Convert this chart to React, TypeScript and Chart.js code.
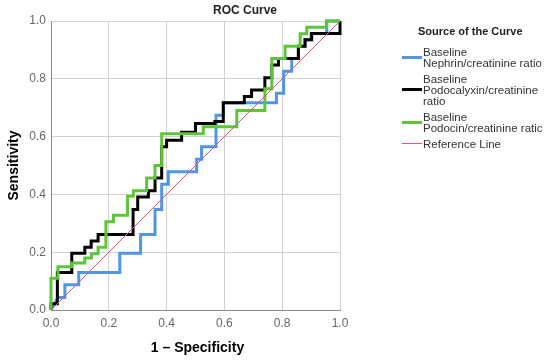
import React, { useEffect, useRef } from "react";
import { Chart, registerables } from "chart.js";

Chart.register(...registerables);

// Baseline Nephrin/creatinine ratio (1 - specificity, sensitivity)
const nephrinX = [0, 0.024, 0.048, 0.048, 0.096, 0.096, 0.238, 0.238, 0.31, 0.31, 0.36, 0.36, 0.383, 0.383, 0.406, 0.406, 0.504, 0.504, 0.521, 0.521, 0.571, 0.571, 0.597, 0.597, 0.78, 0.78, 0.805, 0.805, 0.833, 0.833, 0.856, 0.856, 0.879, 0.879, 0.9, 0.9, 0.954, 0.954, 1];
const nephrinY = [0, 0.043, 0.043, 0.087, 0.087, 0.13, 0.13, 0.196, 0.196, 0.261, 0.261, 0.348, 0.348, 0.435, 0.435, 0.478, 0.478, 0.522, 0.522, 0.565, 0.565, 0.674, 0.674, 0.717, 0.717, 0.75, 0.75, 0.826, 0.826, 0.87, 0.87, 0.913, 0.913, 0.935, 0.935, 0.957, 0.957, 1, 1];

// Baseline Podocalyxin/creatinine ratio
const podocalyxinX = [0, 0, 0.022, 0.022, 0.072, 0.072, 0.117, 0.117, 0.139, 0.139, 0.163, 0.163, 0.284, 0.284, 0.3, 0.3, 0.337, 0.337, 0.36, 0.36, 0.383, 0.383, 0.4, 0.4, 0.452, 0.452, 0.5, 0.5, 0.567, 0.567, 0.596, 0.596, 0.669, 0.669, 0.694, 0.694, 0.74, 0.74, 0.764, 0.764, 0.787, 0.787, 0.856, 0.856, 0.879, 0.879, 0.902, 0.902, 1, 1];
const podocalyxinY = [0, 0.022, 0.022, 0.13, 0.13, 0.196, 0.196, 0.217, 0.217, 0.239, 0.239, 0.261, 0.261, 0.348, 0.348, 0.391, 0.391, 0.413, 0.413, 0.457, 0.457, 0.565, 0.565, 0.587, 0.587, 0.615, 0.615, 0.645, 0.645, 0.652, 0.652, 0.717, 0.717, 0.739, 0.739, 0.761, 0.761, 0.804, 0.804, 0.848, 0.848, 0.87, 0.87, 0.913, 0.913, 0.935, 0.935, 0.957, 0.957, 1];

// Baseline Podocin/creatinine ratio
const podocinX = [0, 0, 0.024, 0.024, 0.072, 0.072, 0.117, 0.117, 0.14, 0.14, 0.163, 0.163, 0.19, 0.19, 0.216, 0.216, 0.265, 0.265, 0.285, 0.285, 0.331, 0.331, 0.36, 0.36, 0.383, 0.383, 0.527, 0.527, 0.643, 0.643, 0.74, 0.74, 0.764, 0.764, 0.81, 0.81, 0.862, 0.862, 0.885, 0.885, 0.954, 0.954, 1];
const podocinY = [0, 0.11, 0.11, 0.15, 0.15, 0.163, 0.163, 0.18, 0.18, 0.195, 0.195, 0.217, 0.217, 0.305, 0.305, 0.328, 0.328, 0.394, 0.394, 0.413, 0.413, 0.457, 0.457, 0.5, 0.5, 0.61, 0.61, 0.634, 0.634, 0.69, 0.69, 0.766, 0.766, 0.87, 0.87, 0.913, 0.913, 0.956, 0.956, 0.978, 0.978, 1, 1];

// Reference line
const referenceX = [0, 1];
const referenceY = [0, 1];

const tickValues = [0, 0.2, 0.4, 0.6, 0.8, 1.0];

const chartTitle = "ROC Curve";
const xTitle = "1 \u2013 Specificity";
const yTitle = "Sensitivity";
const legendTitle = "Source of the Curve";
const legendLabels = [
  ["Baseline", "Nephrin/creatinine ratio"],
  ["Baseline", "Podocalyxin/creatinine", "ratio"],
  ["Baseline", "Podocin/creatinine ratic"],
  ["Reference Line"],
];

const BLUE = "#4f97e6";
const BLACK = "#000000";
const GREEN = "#5ec53a";
const PINK = "#e8507a";
const seriesColors = [BLUE, BLACK, GREEN, PINK];
const seriesWidths = [3, 3, 3, 1];

const FONT = "'Liberation Sans', Arial, Helvetica, sans-serif";

function toPoints(xs: number[], ys: number[]) {
  return xs.map((x, i) => ({ x, y: ys[i] }));
}

export default function App() {
  const ref = useRef<HTMLCanvasElement>(null);

  useEffect(() => {
    document.body.style.margin = "0";
    const canvas = ref.current;
    if (!canvas) return;

    const overlay = {
      id: "overlay",
      afterDraw(chart: any) {
        const ctx = chart.ctx as CanvasRenderingContext2D;
        const a = chart.chartArea;
        ctx.save();
        ctx.textBaseline = "middle";
        // chart title
        ctx.fillStyle = "#222";
        ctx.font = `bold 12px ${FONT}`;
        ctx.textAlign = "center";
        ctx.fillText(chartTitle, 245, 11);
        // axis titles
        ctx.fillStyle = "#000";
        ctx.font = `bold 14px ${FONT}`;
        ctx.fillText(xTitle, (a.left + a.right) / 2 + 2, 348);
        ctx.save();
        ctx.translate(14, (a.top + a.bottom) / 2);
        ctx.rotate(-Math.PI / 2);
        ctx.fillText(yTitle, 0, 0);
        ctx.restore();
        // legend
        ctx.textAlign = "left";
        ctx.fillStyle = "#222";
        ctx.font = `bold 11px ${FONT}`;
        ctx.fillText(legendTitle, 418, 32);
        ctx.font = `11.5px ${FONT}`;
        let y = 52.5;
        legendLabels.forEach((lines, i) => {
          const center = y + ((lines.length - 1) * 11) / 2;
          ctx.strokeStyle = seriesColors[i];
          ctx.lineWidth = seriesWidths[i];
          ctx.beginPath();
          ctx.moveTo(402, Math.round(center - 1.5) + (seriesWidths[i] === 1 ? 0.5 : 0.5));
          ctx.lineTo(422, Math.round(center - 1.5) + 0.5);
          ctx.stroke();
          ctx.fillStyle = "#333";
          lines.forEach((t, k) => ctx.fillText(t, 423, y + k * 11));
          y += (lines.length - 1) * 11 + 16;
        });
        ctx.restore();
      },
    };

    const mk = (label: string, xs: number[], ys: number[], idx: number, order: number) => ({
      label,
      data: toPoints(xs, ys),
      showLine: true,
      borderColor: seriesColors[idx],
      backgroundColor: seriesColors[idx],
      borderWidth: seriesWidths[idx],
      pointRadius: 0,
      pointHoverRadius: 0,
      tension: 0,
      borderJoinStyle: "miter" as const,
      borderCapStyle: "butt" as const,
      clip: 6,
      order,
    });

    const chart = new Chart(canvas, {
      type: "scatter",
      data: {
        datasets: [
          mk("Reference Line", referenceX, referenceY, 3, 0),
          mk("Baseline Podocin/creatinine ratio", podocinX, podocinY, 2, 1),
          mk("Baseline Podocalyxin/creatinine ratio", podocalyxinX, podocalyxinY, 1, 2),
          mk("Baseline Nephrin/creatinine ratio", nephrinX, nephrinY, 0, 3),
        ],
      },
      options: {
        animation: false,
        responsive: false,
        devicePixelRatio: 1,
        layout: { padding: { top: 21, right: 210, left: 0, bottom: 0 } },
        plugins: {
          legend: { display: false },
          tooltip: { enabled: false },
          title: { display: false },
        },
        scales: {
          x: {
            type: "linear",
            min: 0,
            max: 1,
            afterFit: (s: any) => {
              s.height = 52;
            },
            afterBuildTicks: (s: any) => {
              s.ticks = tickValues.map((v) => ({ value: v }));
            },
            ticks: {
              color: "#666",
              font: { family: FONT, size: 12 },
              padding: 6,
              maxRotation: 0,
              callback: (v: any) => Number(v).toFixed(1),
            },
            grid: { color: "#d2d2d2", drawTicks: false, lineWidth: 1 },
            border: { color: "#8a8a8a", width: 1 },
          },
          y: {
            type: "linear",
            min: 0,
            max: 1,
            afterFit: (s: any) => {
              s.width = 51;
            },
            afterBuildTicks: (s: any) => {
              s.ticks = tickValues.map((v) => ({ value: v }));
            },
            ticks: {
              color: "#666",
              font: { family: FONT, size: 12 },
              padding: 5,
              callback: (v: any) => Number(v).toFixed(1),
            },
            grid: { color: "#d2d2d2", drawTicks: false, lineWidth: 1 },
            border: { color: "#8a8a8a", width: 1 },
          },
        },
      },
      plugins: [overlay],
    });

    return () => chart.destroy();
  }, []);

  return (
    <div style={{ width: 550, height: 362 }}>
      <canvas ref={ref} width={550} height={362} style={{ display: "block", width: 550, height: 362 }} />
    </div>
  );
}
